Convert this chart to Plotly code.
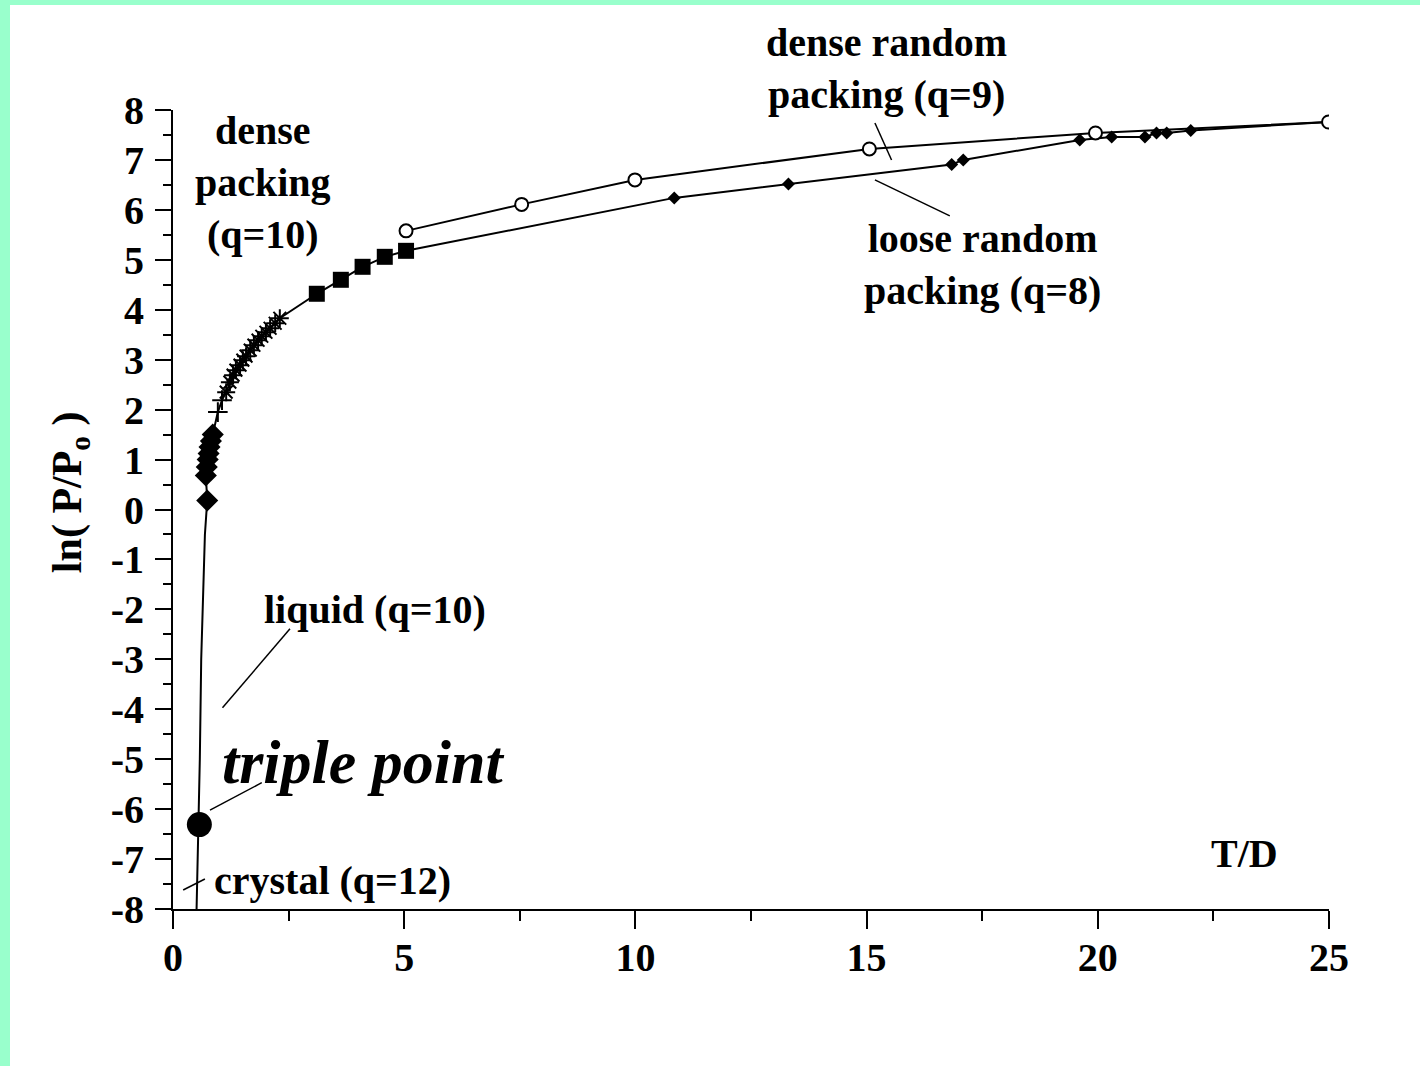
import plotly.graph_objects as go

# ---- data: ln(P/Po) versus reduced temperature T/D ----
# crystal / liquid branch below the first data points
path_T = [0.51, 0.53, 0.56, 0.58, 0.61, 0.65, 0.69, 0.74]
path_ln = [-8.0, -7.0, -6.31, -5.0, -3.0, -1.5, -0.5, 0.18]

triple_T = [0.57]
triple_ln = [-6.31]

liquid_T = [0.74, 0.71, 0.73, 0.75, 0.77, 0.79, 0.82, 0.86]
liquid_ln = [0.18, 0.68, 0.85, 1.00, 1.12, 1.25, 1.37, 1.50]

plus_T = [0.97, 1.06]
plus_ln = [1.95, 2.19]

star_T = [1.15, 1.23, 1.30, 1.36, 1.45, 1.51, 1.58, 1.67, 1.75, 1.84, 1.92, 2.01, 2.10, 2.21, 2.31]
star_ln = [2.35, 2.55, 2.69, 2.79, 2.89, 2.99, 3.07, 3.19, 3.29, 3.39, 3.47, 3.55, 3.63, 3.73, 3.83]

square_T = [3.11, 3.63, 4.10, 4.58, 5.04]
square_ln = [4.32, 4.60, 4.86, 5.06, 5.18]

loose_T = [10.84, 13.31, 16.84, 17.09, 19.61, 20.30, 21.02, 21.27, 21.49, 22.01]
loose_ln = [6.24, 6.52, 6.91, 7.00, 7.40, 7.46, 7.46, 7.54, 7.54, 7.59]

dense_T = [5.04, 7.54, 9.99, 15.06, 19.95, 24.99]
dense_ln = [5.58, 6.11, 6.60, 7.22, 7.54, 7.76]

x_ticks = [0, 5, 10, 15, 20, 25]
y_ticks = list(range(-8, 9))

FONT = "Liberation Serif"
INK = "black"

fig = go.Figure()

# continuous curve: crystal -> liquid -> dense packing -> loose random packing
main_T = path_T + liquid_T + plus_T + star_T + square_T + loose_T + dense_T[-1:]
main_ln = path_ln + liquid_ln + plus_ln + star_ln + square_ln + loose_ln + dense_ln[-1:]
fig.add_trace(go.Scatter(x=main_T, y=main_ln, mode="lines",
                         line=dict(color=INK, width=2), hoverinfo="skip"))
# dense random packing branch
fig.add_trace(go.Scatter(x=dense_T, y=dense_ln, mode="lines",
                         line=dict(color=INK, width=2), hoverinfo="skip"))

fig.add_trace(go.Scatter(x=liquid_T, y=liquid_ln, mode="markers",
                         marker=dict(symbol="diamond", size=17, color=INK)))
fig.add_trace(go.Scatter(x=plus_T, y=plus_ln, mode="markers",
                         marker=dict(symbol="cross-thin", size=14,
                                     line=dict(color=INK, width=2))))
fig.add_trace(go.Scatter(x=star_T, y=star_ln, mode="markers",
                         marker=dict(symbol="asterisk", size=15,
                                     line=dict(color=INK, width=2))))
fig.add_trace(go.Scatter(x=square_T, y=square_ln, mode="markers",
                         marker=dict(symbol="square", size=16, color=INK)))
fig.add_trace(go.Scatter(x=loose_T, y=loose_ln, mode="markers",
                         marker=dict(symbol="diamond", size=10, color=INK)))
fig.add_trace(go.Scatter(x=dense_T, y=dense_ln, mode="markers",
                         marker=dict(symbol="circle", size=13, color="white",
                                     line=dict(color=INK, width=2))))
fig.add_trace(go.Scatter(x=triple_T, y=triple_ln, mode="markers",
                         marker=dict(symbol="circle", size=25, color=INK)))


def label(text, x, y, xanchor="center", size=40, italic=False, yref="y"):
    t = f"<b>{text}</b>"
    if italic:
        t = f"<i>{t}</i>"
    fig.add_annotation(x=x, y=y, xref="x", yref=yref, text=t, showarrow=False,
                       xanchor=xanchor, yanchor="middle",
                       font=dict(family=FONT, size=size, color=INK))


def leader(x0, y0, x1, y1):
    fig.add_shape(type="line", xref="x", yref="y", x0=x0, y0=y0, x1=x1, y1=y1,
                  line=dict(color=INK, width=1.5))


label("dense<br>packing<br>(q=10)", 1.95, 6.54)
# this label sits above the plotting area, so it is placed in paper units
label("dense random<br>packing (q=9)", 15.44, 1.052, yref="paper")
label("loose random<br>packing (q=8)", 17.50, 4.90)
label("liquid (q=10)", 1.92, -2.01, xanchor="left")
label("triple point", 1.02, -5.06, xanchor="left", size=62, italic=True)
label("crystal (q=12)", 0.84, -7.42, xanchor="left")
label("T/D", 23.18, -6.88)

leader(15.18, 7.74, 15.54, 7.00)
leader(15.18, 6.60, 16.80, 5.88)
leader(2.53, -2.39, 1.07, -3.97)
leader(1.92, -5.47, 0.80, -6.02)
leader(0.22, -7.62, 0.69, -7.40)

# rotated y-axis title
fig.add_annotation(x=-0.089, y=0.35, xref="paper", yref="y",
                   text="<b>ln( P/P<sub>o</sub> )</b>", showarrow=False,
                   textangle=-90, xanchor="center", yanchor="middle",
                   font=dict(family=FONT, size=42, color=INK))

# mint frame along the left and top edges of the page
MINT = "#99FFCC"
fig.add_shape(type="rect", xref="paper", yref="paper",
              x0=-0.2, x1=(10 - 173) / 1156, y0=-0.3, y1=1.2,
              fillcolor=MINT, line_width=0, layer="below")
fig.add_shape(type="rect", xref="paper", yref="paper",
              x0=-0.2, x1=1.2, y0=(909 - 5) / 799, y1=1.2,
              fillcolor=MINT, line_width=0, layer="below")

axis_common = dict(showgrid=False, zeroline=False, showline=True,
                   linecolor=INK, linewidth=2, ticks="outside",
                   tickcolor=INK, tickwidth=2,
                   tickfont=dict(family=FONT, size=40, color=INK))

fig.update_xaxes(range=[0, 25], tickvals=x_ticks,
                 ticktext=[f"<b>{v}</b>" for v in x_ticks],
                 ticklen=18, ticklabelstandoff=-6,
                 minor=dict(ticks="outside", dtick=2.5, tick0=0, ticklen=10,
                            tickwidth=2, tickcolor=INK),
                 **axis_common)
fig.update_yaxes(range=[-8, 8], tickvals=y_ticks,
                 ticktext=[f"<b>{v}</b>" for v in y_ticks],
                 ticklen=16, ticklabelstandoff=3,
                 minor=dict(ticks="outside", dtick=0.5, tick0=0, ticklen=8,
                            tickwidth=2, tickcolor=INK),
                 **axis_common)

fig.update_layout(width=1420, height=1066,
                  margin=dict(l=173, r=91, t=110, b=157),
                  paper_bgcolor="white", plot_bgcolor="white",
                  showlegend=False)

fig.write_html("out.html")
